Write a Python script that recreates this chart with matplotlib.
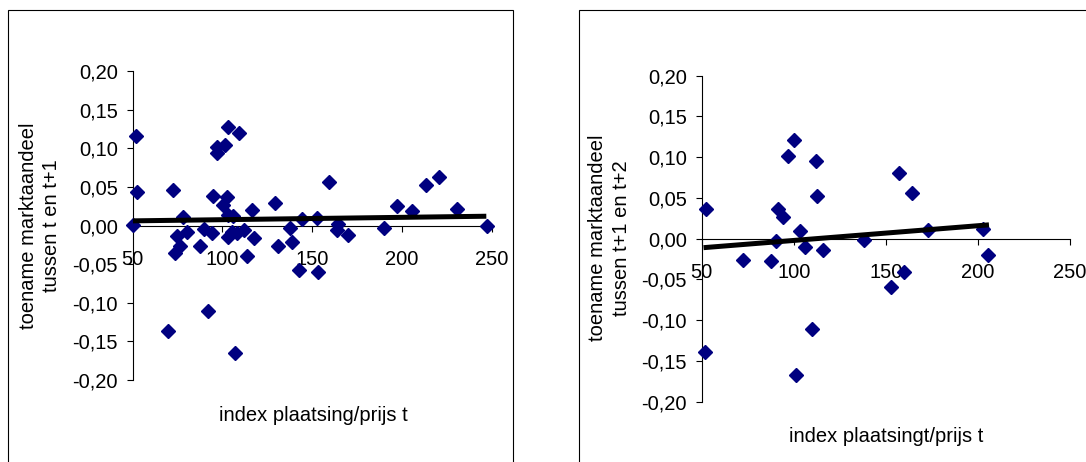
import matplotlib
matplotlib.use("Agg")
import matplotlib.pyplot as plt
from matplotlib.patches import Rectangle
from matplotlib.ticker import FuncFormatter

plt.rcParams['font.family'] = ['Liberation Sans', 'DejaVu Sans']

# left panel: increase t -> t+1
x_left = [50.4, 51.9, 52.2, 72.7, 69.9, 77.9, 74.5, 80.1, 76.4, 73.6,
          87.5, 89.7, 94.0, 94.6, 92.2, 96.8, 97.2, 101.4, 100.1, 102.7,
          103.3, 109.4, 102.9, 106.1, 103.3, 105.2, 107.9, 112.0, 113.5, 107.0,
          116.3, 117.6, 129.3, 131.2, 137.7, 138.6, 144.2, 142.7, 152.9, 153.4,
          159.6, 164.6, 164.0, 170.1, 190.2, 197.4, 205.8, 213.2, 220.7, 230.5,
          247.2]
y_left = [0.001, 0.116, 0.043, 0.046, -0.137, 0.011, -0.013, -0.009, -0.027, -0.035,
          -0.026, -0.004, -0.010, 0.038, -0.111, 0.094, 0.101, 0.104, 0.027, 0.037,
          0.127, 0.120, 0.014, 0.012, -0.015, -0.008, -0.010, -0.006, -0.040, -0.165,
          0.020, -0.016, 0.029, -0.026, -0.003, -0.021, 0.009, -0.058, 0.010, -0.060,
          0.056, 0.002, -0.006, -0.012, -0.003, 0.025, 0.019, 0.053, 0.063, 0.022,
          -0.001]
trend_x_left = [50, 247]
trend_y_left = [0.006, 0.012]

# right panel: increase t+1 -> t+2
x_right = [52.2, 51.8, 72.3, 87.5, 90.2, 91.6, 94.0, 97.1, 100.3, 101.0,
           103.4, 106.1, 109.7, 111.9, 112.4, 116.1, 138.1, 152.8, 157.3, 159.8,
           164.4, 173.1, 202.6, 205.7]
y_right = [0.037, -0.139, -0.026, -0.027, -0.003, 0.037, 0.027, 0.102, 0.121, -0.167,
           0.010, -0.010, -0.111, 0.095, 0.053, -0.014, -0.002, -0.059, 0.080, -0.041,
           0.056, 0.011, 0.012, -0.020]
trend_x_right = [51, 206]
trend_y_right = [-0.011, 0.017]

yticks = [-0.20, -0.15, -0.10, -0.05, 0.00, 0.05, 0.10, 0.15, 0.20]
xticks = [50, 100, 150, 200, 250]

W, H = 1086, 462
FS = 14.5
fig = plt.figure(figsize=(W / 100, H / 100), dpi=100)

# chart frames
fig.patches.append(Rectangle((8 / W, -0.1), 505 / W, 1.1 - 10 / H, transform=fig.transFigure,
                             fill=False, ec='black', lw=0.8))
fig.patches.append(Rectangle((579 / W, -0.1), 0.6, 1.1 - 10 / H, transform=fig.transFigure,
                             fill=False, ec='black', lw=0.8))

fmt = FuncFormatter(lambda v, p: ('%.2f' % v).replace('.', ','))
navy = '#000080'


def panel(rect, xs, ys, tx, ty, ylab, xlab, ylab_pos, xlab_pos):
    ax = fig.add_axes(rect)
    ax.set_xlim(50, 250)
    ax.set_ylim(-0.2, 0.2)
    ax.patch.set_alpha(0)
    ax.spines['top'].set_visible(False)
    ax.spines['right'].set_visible(False)
    ax.spines['bottom'].set_position(('data', 0))
    for s in ('left', 'bottom'):
        ax.spines[s].set_linewidth(0.8)
    ax.set_yticks(yticks)
    ax.set_xticks(xticks)
    ax.yaxis.set_major_formatter(fmt)
    ax.tick_params(axis='y', direction='out', length=4.5, width=0.8, pad=6, labelsize=FS)
    ax.tick_params(axis='x', direction='out', length=4.5, width=0.8, pad=13, labelsize=FS)
    ax.plot(xs, ys, 'D', color=navy, mec=navy, ms=7, clip_on=False, zorder=3)
    ax.plot(tx, ty, color='black', lw=3.6, solid_capstyle='butt', zorder=4)
    ax.text(ylab_pos[0], ylab_pos[1], ylab, transform=ax.transAxes, rotation=90,
            ha='center', va='center', multialignment='center', fontsize=FS, linespacing=1.3)
    ax.text(xlab_pos[0], xlab_pos[1], xlab, transform=ax.transAxes,
            ha='center', va='center', fontsize=FS)
    return ax


panel([132.7 / W, 1 - 380 / H, 359 / W, 309 / H], x_left, y_left, trend_x_left, trend_y_left,
      'toename marktaandeel\ntussen t en t+1', 'index plaatsing/prijs t',
      (-0.258, 0.498), (0.502, -0.1165))
panel([701.7 / W, 1 - 401.7 / H, 368.3 / W, 326 / H], x_right, y_right, trend_x_right, trend_y_right,
      'toename marktaandeel\ntussen t+1 en t+2', 'index plaatsingt/prijs t',
      (-0.25, 0.502), (0.5, -0.107))

fig.savefig('out.png', dpi=100)
